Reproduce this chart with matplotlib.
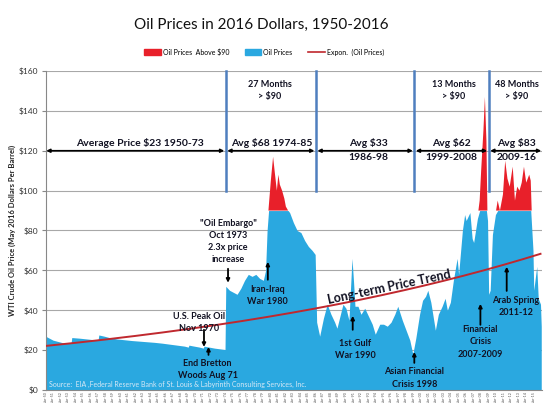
import numpy as np
import matplotlib
matplotlib.use("Agg")
import matplotlib.pyplot as plt
from matplotlib.patches import Patch
from matplotlib.lines import Line2D

plt.rcParams['font.family'] = ['Lato', 'DejaVu Sans']

# monthly-ish WTI price in May 2016 dollars
years = [1950.0, 1950.5, 1951.0, 1951.5, 1952.0, 1952.5, 1953.4, 1953.5, 1954.5, 1955.5,
         1956.5, 1957.0, 1957.1, 1957.8, 1958.5, 1959.5, 1960.5, 1961.5, 1962.5, 1963.5,
         1964.5, 1965.5, 1966.5, 1967.5, 1968.5, 1969.0, 1969.1, 1969.5, 1970.5, 1971.0,
         1971.1, 1971.8, 1972.5, 1973.5, 1973.9, 1974.0, 1974.5, 1975.0, 1975.5, 1976.0,
         1976.5, 1977.0, 1977.5, 1978.0, 1978.5, 1979.0, 1979.3, 1979.5, 1979.7, 1980.0,
         1980.3, 1980.5, 1980.8, 1981.0, 1981.2, 1981.5, 1981.8, 1982.0, 1982.3, 1982.5,
         1983.0, 1983.5, 1984.0, 1984.5, 1985.0, 1985.5, 1985.9, 1986.1, 1986.5, 1987.0,
         1987.5, 1988.0, 1988.5, 1988.8, 1989.2, 1989.6, 1990.0, 1990.4, 1990.7, 1990.8,
         1991.0, 1991.2, 1991.6, 1992.0, 1992.5, 1993.0, 1993.5, 1993.9, 1994.5, 1995.0,
         1995.5, 1996.0, 1996.5, 1996.9, 1997.5, 1998.0, 1998.5, 1998.9, 1999.3, 1999.8,
         2000.2, 2000.6, 2000.9, 2001.3, 2001.9, 2002.3, 2002.8, 2003.2, 2003.5, 2003.9,
         2004.3, 2004.8, 2005.0, 2005.5, 2005.8, 2006.0, 2006.5, 2006.8, 2007.0, 2007.5,
         2007.8, 2008.0, 2008.3, 2008.5, 2008.7, 2008.85, 2009.0, 2009.2, 2009.5, 2009.9,
         2010.2, 2010.5, 2010.9, 2011.2, 2011.5, 2011.8, 2012.2, 2012.5, 2012.8, 2013.1,
         2013.4, 2013.7, 2014.0, 2014.4, 2014.6, 2014.9, 2015.0, 2015.4, 2015.6, 2015.9,
         2016.0]
prices = [27, 26, 25, 24.5, 24, 23.5, 23.3, 26.3, 26, 25.6,
          25.2, 25, 27.6, 27, 26.3, 25.6, 25.2, 24.8, 24.5, 24.2,
          23.9, 23.5, 23, 22.5, 22, 21.5, 22.5, 22.2, 21.5, 21,
          22, 21.5, 21, 20.5, 20.3, 52, 50, 49, 48, 51,
          55, 58, 57, 58, 56, 55, 60, 80, 91, 105,
          117, 110, 100, 108, 103, 100, 96, 92, 90, 89,
          84, 80, 79, 75, 72, 70, 68, 34, 27, 36,
          43, 38, 34, 31, 37, 43, 41, 35, 58, 66,
          55, 42, 42, 38, 41, 37, 33, 28, 33, 33,
          32, 34, 38, 42, 35, 30, 25, 18, 26, 38,
          45, 47, 50, 44, 30, 38, 42, 46, 40, 44,
          55, 66, 58, 80, 88, 85, 89, 76, 74, 86,
          95, 110, 130, 147, 125, 85, 48, 50, 78, 88,
          95, 90, 98, 115, 106, 102, 112, 95, 102, 100,
          104, 112, 104, 108, 105, 70, 50, 62, 46, 43,
          32]

threshold = 90
trend_start, trend_end = 22.1, 68.3   # Excel exponential trendline, read at the ends
trend_years = (1950.0, 2015.9)

regime_breaks = [1974.0, 1986.0, 1999.1, 2009.0]
regime_spans = [(1950.1, 1973.8), (1974.2, 1985.8), (1986.2, 1998.9),
                (1999.3, 2008.8), (2009.2, 2016.0)]

blue = '#2aa8e0'
red = '#e8202a'
trend_red = '#c0282e'
text_col = '#111122'

x = np.array(years)
p = np.array(prices)

fig = plt.figure(figsize=(5.5, 4.19), dpi=100)
ax = fig.add_axes([45.5/550, 1-390/419, (542-45.5)/550, (390-71)/419])

ax.fill_between(x, 0, np.minimum(p, threshold), color=blue, lw=0, zorder=2)
ax.fill_between(x, threshold, p, where=p > threshold, interpolate=True,
                color=red, lw=0, zorder=2)

tx = np.linspace(trend_years[0], trend_years[1], 200)
ty = trend_start * (trend_end/trend_start) ** ((tx - trend_years[0])/(trend_years[1]-trend_years[0]))
ax.plot(tx, ty, color=trend_red, lw=1.4, zorder=3)

ax.set_xlim(1950, 2016.1)
ax.set_ylim(0, 160)
ax.set_yticks(range(0, 161, 20))
ax.set_yticklabels(['$%d' % v for v in range(0, 161, 20)], fontsize=6, color='#333333')
ax.yaxis.grid(True, color='#a8a8a8', lw=0.8, zorder=0)
ax.set_axisbelow(True)
ax.tick_params(axis='y', length=3, color='#888888', pad=2)
yr = list(range(1950, 2016))
ax.set_xticks(yr)
ax.set_xticklabels(['Jan-%02d' % (y % 100) for y in yr], rotation=90, fontsize=2.6, color='#555555')
ax.tick_params(axis='x', length=0, pad=1)
for s in ['top', 'right']:
    ax.spines[s].set_visible(False)
ax.spines['left'].set_color('#888888')
ax.spines['bottom'].set_color('#888888')

ax.set_ylabel('WTI Crude Oil Price (May 2016 Dollars Per Barrel)', fontsize=5.5,
              fontweight='bold', color='#222222', labelpad=2)

# regime dividers and average arrows
for b in regime_breaks:
    ax.plot([b, b], [100, 160], color='#4f7fbf', lw=1.8, zorder=4, clip_on=False)
for a, b in regime_spans:
    ax.annotate('', xy=(b, 120), xytext=(a, 120),
                arrowprops=dict(arrowstyle='<|-|>', color='black', lw=1.2,
                                mutation_scale=5, shrinkA=0, shrinkB=0), zorder=5)

bold = dict(fontsize=7.5, fontweight='bold', color=text_col, ha='center', va='center', zorder=6)
ax.text(1962.6, 124, 'Average Price $23 1950-73', **bold)
ax.text(1980.1, 124, 'Avg $68 1974-85', **bold)
ax.text(1993.0, 124, 'Avg $33', **bold)
ax.text(1993.0, 116.5, '1986-98', **bold)
ax.text(2004.0, 124, 'Avg $62', **bold)
ax.text(2004.0, 116.5, '1999-2008', **bold)
ax.text(2012.7, 124, 'Avg $83', **bold)
ax.text(2012.7, 116.5, '2009-16', **bold)

small = dict(fontsize=6.5, fontweight='bold', color=text_col, ha='center', va='center',
             linespacing=1.45, zorder=6)
ax.text(1979.85, 150.3, '27 Months\n> $90', **small)
ax.text(2004.4, 150.3, '13 Months\n> $90', **small)
ax.text(2012.7, 150.3, '48 Months\n> $90', **small)

ax.text(1974.3, 74.6, '"Oil Embargo"\nOct 1973\n2.3x price\nincrease', **small)
ax.text(1979.6, 47.5, 'Iran-Iraq\nWar 1980', **small)
ax.text(1970.5, 33.9, 'U.S. Peak Oil\nNov 1970', **small)
ax.text(1971.6, 10.3, 'End Bretton\nWoods Aug 71', **small)
ax.text(1991.2, 20.4, '1st Gulf\nWar 1990', **small)
ax.text(1999.1, 6.0, 'Asian Financial\nCrisis 1998', **small)
ax.text(2007.9, 24.1, 'Financial\nCrisis\n2007-2009', **small)
ax.text(2012.6, 42.0, 'Arab Spring\n2011-12', **small)

events = [(1974.3, 60.8, 53.8), (1979.6, 55.3, 64.3), (1971.1, 30.2, 21.6),
          (1971.7, 17.6, 21.6), (1990.9, 30.2, 37.2), (1999.1, 13.6, 19.1),
          (2007.9, 32.7, 43.2), (2011.4, 49.7, 61.8)]
for ex, y0, y1 in events:
    ax.annotate('', xy=(ex, y1), xytext=(ex, y0),
                arrowprops=dict(arrowstyle='-|>', color='black', lw=1.3,
                                mutation_scale=5, shrinkA=0, shrinkB=0), zorder=6)

ax.text(1995.8, 51.5, 'Long-term Price Trend', fontsize=9, fontweight='bold',
        color=text_col, rotation=12, ha='center', va='center', zorder=6)

ax.text(1950.5, 2.6, 'Source:  EIA ,Federal Reserve Bank of St. Louis & Labyrinth Consulting Services, Inc.',
        fontsize=5, color='#d6e8f6', ha='left', va='center', zorder=6)

fig.text(0.475, 1-25/419, 'Oil Prices in 2016 Dollars, 1950-2016', fontsize=11,
         ha='center', va='center', color='#111111')

handles = [Patch(color=red), Patch(color=blue), Line2D([0], [0], color=trend_red, lw=1.2)]
labels = ['Oil Prices  Above $90', 'Oil Prices', 'Expon.  (Oil Prices)']
fig.legend(handles, labels, loc='center', bbox_to_anchor=(0.48, 1-52/419), ncol=3,
           frameon=False, fontsize=5, handlelength=2.4, handleheight=0.9,
           columnspacing=2.2, handletextpad=0.3)

fig.savefig('out.png', dpi=100)
